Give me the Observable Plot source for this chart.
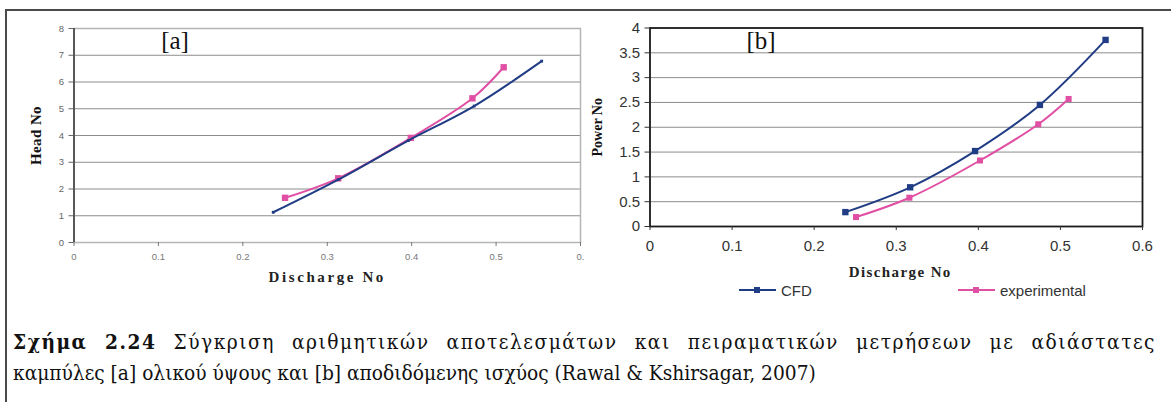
<!DOCTYPE html>
<html>
<head>
<meta charset="utf-8">
<script src="https://cdn.jsdelivr.net/npm/d3@7"></script>
<script src="https://cdn.jsdelivr.net/npm/@observablehq/plot@0.6"></script>
<style>
  html, body { margin: 0; padding: 0; background: #fff; }
  #page { position: relative; width: 1171px; height: 402px; overflow: hidden; background: #fff; }
  #frame { position: absolute; left: 5px; top: 9px; width: 1170px; height: 400px;
           border-top: 2px solid #4a4a4a; border-left: 2px solid #4a4a4a; }
  #chartA { position: absolute; left: 0; top: 0; }
  #chartB { position: absolute; left: 580px; top: 0; }
  .cap { position: absolute; left: 13px; width: 1143px;
         font-family: "DejaVu Serif Condensed", "DejaVu Serif", serif; font-stretch: condensed;
         font-size: 20.7px; color: #111; white-space: nowrap; line-height: 26px; }
  #cap1 { top: 329px; text-align: justify; text-align-last: justify; letter-spacing: 1.5px; }
  #cap2 { top: 360px; text-align: left; }
  #legend { position: absolute; left: 730px; top: 280px; font-family: "Liberation Sans", Arial, sans-serif;
            font-size: 15px; color: #333; }
  .lg { position: absolute; top: 0; display: flex; align-items: center; white-space: nowrap; }
  .lg svg { margin-right: 5px; }
</style>
</head>
<body>
<div id="page">
  <div id="frame"></div>
  <div id="chartA"></div>
  <div id="chartB"></div>
  <div id="legend"></div>
  <div class="cap" id="cap1"></div>
  <div class="cap" id="cap2"></div>
</div>
<script>
// ---- data ----
const seriesNames = ["CFD", "experimental"];
const seriesColors = ["#203c84", "#e04fa3"];

// [a] Head No vs Discharge No
const cfdHeadQ = [0.236, 0.313, 0.396, 0.474, 0.554];
const cfdHead  = [1.13, 2.35, 3.81, 5.10, 6.78];
const expHeadQ = [0.250, 0.313, 0.399, 0.472, 0.509];
const expHead  = [1.67, 2.40, 3.91, 5.39, 6.55];

// [b] Power No vs Discharge No
const cfdPowerQ = [0.238, 0.317, 0.396, 0.475, 0.555];
const cfdPower  = [0.29, 0.79, 1.52, 2.45, 3.76];
const expPowerQ = [0.251, 0.316, 0.402, 0.473, 0.510];
const expPower  = [0.19, 0.58, 1.33, 2.06, 2.57];

// ticks and labels
const xTicks = [0, 0.1, 0.2, 0.3, 0.4, 0.5, 0.6];
const xTickLabelsA = ["0", "0.1", "0.2", "0.3", "0.4", "0.5", "0."];
const xTickLabelsB = ["0", "0.1", "0.2", "0.3", "0.4", "0.5", "0.6"];
const headTicks = [0, 1, 2, 3, 4, 5, 6, 7, 8];
const powerTicks = [0, 0.5, 1, 1.5, 2, 2.5, 3, 3.5, 4];
const xTitle = "Discharge No";
const yTitleA = "Head No";
const yTitleB = "Power No";
const panelA = "[a]";
const panelB = "[b]";
const captionBold = "Σχήμα 2.24";
const captionLine1 = " Σύγκριση αριθμητικών αποτελεσμάτων και πειραματικών μετρήσεων με αδιάστατες";
const captionLine2 = "καμπύλες [a] ολικού ύψους και [b] αποδιδόμενης ισχύος (Rawal & Kshirsagar, 2007)";

const toRows = (qs, vs) => qs.map((q, i) => ({q, v: vs[i]}));
const spaceOut = (svg, text, spacing) =>
  d3.select(svg).selectAll("text").filter(function () { return this.textContent === text; })
    .style("letter-spacing", spacing);

// ---- chart [a] ----
const cfdA = toRows(cfdHeadQ, cfdHead);
const expA = toRows(expHeadQ, expHead);
const chartA = Plot.plot({
  width: 600, height: 300,
  marginLeft: 73.5, marginRight: 20, marginTop: 28, marginBottom: 58,
  x: {domain: [0, 0.6]},
  y: {domain: [0, 8]},
  style: {fontFamily: "'Liberation Sans', Arial, sans-serif", background: "transparent", overflow: "visible"},
  marks: [
    Plot.gridY(headTicks, {stroke: "#8c8c8c", strokeOpacity: 1, strokeWidth: 1}),
    Plot.frame({stroke: "#b5b5b5", strokeWidth: 1.5}),
    Plot.ruleX([0], {stroke: "#333", strokeWidth: 1.5}),
    Plot.axisY(headTicks, {tickSize: 5, tickPadding: 5, fontSize: 9.5, color: "#666", label: null}),
    Plot.axisX(xTicks, {tickSize: 4, tickPadding: 6.5, fontSize: 9.5, color: "#777", label: null,
      tickFormat: (d, i) => xTickLabelsA[i]}),
    Plot.line(expA, {x: "q", y: "v", stroke: seriesColors[1], strokeWidth: 2, curve: "catmull-rom"}),
    Plot.dot(expA, {x: "q", y: "v", symbol: "square", r: 3.6, fill: seriesColors[1]}),
    Plot.line(cfdA, {x: "q", y: "v", stroke: seriesColors[0], strokeWidth: 2, curve: "catmull-rom"}),
    Plot.dot(cfdA, {x: "q", y: "v", symbol: "square", r: 1.6, fill: seriesColors[0]}),
    Plot.text([yTitleA], {frameAnchor: "left", dx: -38, rotate: -90, fontFamily: "'Liberation Serif', serif",
      fontWeight: "bold", fontSize: 15, fill: "#111", textAnchor: "middle", lineAnchor: "middle"}),
    Plot.text([xTitle], {frameAnchor: "bottom", dy: 35, fontFamily: "'Liberation Serif', serif",
      fontWeight: "bold", fontSize: 15, fill: "#222", textAnchor: "middle", lineAnchor: "middle"}),
    Plot.text([panelA], {frameAnchor: "top-left", dx: 101, dy: 12, fontFamily: "'Liberation Serif', serif",
      fontSize: 25, fill: "#111", textAnchor: "middle", lineAnchor: "middle"})
  ]
});
spaceOut(chartA, xTitle, "2.6px");
spaceOut(chartA, yTitleA, "0.4px");
document.getElementById("chartA").appendChild(chartA);

// ---- chart [b] ----
const cfdB = toRows(cfdPowerQ, cfdPower);
const expB = toRows(expPowerQ, expPower);
const chartB = Plot.plot({
  width: 591, height: 300,
  marginLeft: 69.5, marginRight: 29, marginTop: 27.5, marginBottom: 74,
  x: {domain: [0, 0.6]},
  y: {domain: [0, 4]},
  style: {fontFamily: "'Liberation Sans', Arial, sans-serif", background: "transparent", overflow: "visible"},
  marks: [
    Plot.gridY(powerTicks.slice(1, -1), {stroke: "#8c8c8c", strokeOpacity: 1, strokeWidth: 1}),
    Plot.frame({stroke: "#1a1a1a", strokeWidth: 1.8}),
    Plot.axisY(powerTicks, {tickSize: 5, tickPadding: 5, fontSize: 15, color: "#333", label: null,
      tickFormat: d => String(d)}),
    Plot.axisX(xTicks, {tickSize: 4, tickPadding: 9.5, fontSize: 15, color: "#333", label: null,
      tickFormat: (d, i) => xTickLabelsB[i]}),
    Plot.line(expB, {x: "q", y: "v", stroke: seriesColors[1], strokeWidth: 2, curve: "catmull-rom"}),
    Plot.dot(expB, {x: "q", y: "v", symbol: "square", r: 3.4, fill: seriesColors[1]}),
    Plot.line(cfdB, {x: "q", y: "v", stroke: seriesColors[0], strokeWidth: 2, curve: "catmull-rom"}),
    Plot.dot(cfdB, {x: "q", y: "v", symbol: "square", r: 3.6, fill: seriesColors[0]}),
    Plot.text([yTitleB], {frameAnchor: "left", dx: -52.5, rotate: -90, fontFamily: "'Liberation Serif', serif",
      fontWeight: "bold", fontSize: 14, fill: "#111", textAnchor: "middle", lineAnchor: "middle"}),
    Plot.text([xTitle], {frameAnchor: "bottom", dx: 4, dy: 46, fontFamily: "'Liberation Serif', serif",
      fontWeight: "bold", fontSize: 15, fill: "#222", textAnchor: "middle", lineAnchor: "middle"}),
    Plot.text([panelB], {frameAnchor: "top-left", dx: 111, dy: 12.5, fontFamily: "'Liberation Serif', serif",
      fontSize: 25, fill: "#111", textAnchor: "middle", lineAnchor: "middle"})
  ]
});
spaceOut(chartB, xTitle, "1.4px");
document.getElementById("chartB").appendChild(chartB);

// ---- legend ----
const legend = document.getElementById("legend");
const legendLeft = [9, 228];
seriesNames.forEach((name, i) => {
  const item = document.createElement("div");
  item.className = "lg";
  item.style.left = legendLeft[i] + "px";
  item.innerHTML = `<svg width="37" height="20"><line x1="0" y1="10" x2="37" y2="10" stroke="${seriesColors[i]}" stroke-width="2"/>` +
    `<rect x="15" y="7" width="6" height="6" fill="${seriesColors[i]}"/></svg><span>${name}</span>`;
  legend.appendChild(item);
});

// ---- caption ----
document.getElementById("cap1").innerHTML = `<b>${captionBold}</b>${captionLine1}`;
document.getElementById("cap2").textContent = captionLine2;
</script>
</body>
</html>
